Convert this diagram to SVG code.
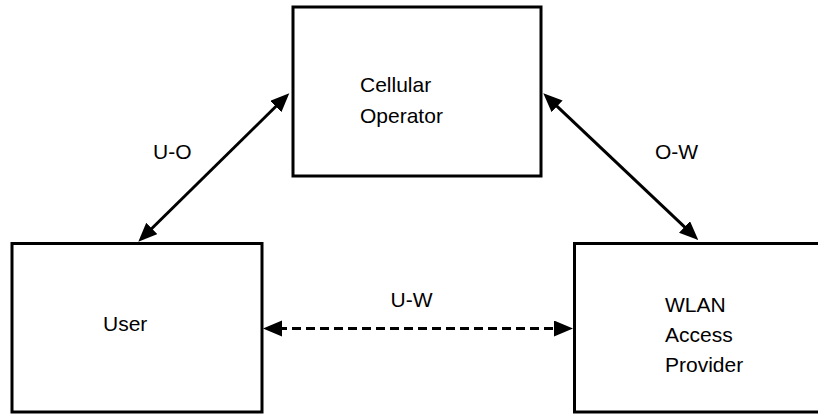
<svg xmlns="http://www.w3.org/2000/svg" width="818" height="414" viewBox="0 0 818 414">
  <style>
    .box { fill: #ffffff; stroke: #000000; stroke-width: 3; }
    .lbl { font-family: "Liberation Sans", Arial, sans-serif; font-size: 21px; fill: #000000; }
    .conn { stroke: #000000; stroke-width: 3; fill: none; marker-start: url(#ah); marker-end: url(#ah); }
    .dash { stroke-dasharray: 9 5; }
  </style>
  <defs>
    <marker id="ah" markerUnits="userSpaceOnUse" markerWidth="20" markerHeight="17" refX="4" refY="8" orient="auto-start-reverse" viewBox="0 0 20 17">
      <path d="M0,0 L19,8 L0,16 Z" fill="#000000"/>
    </marker>
  </defs>
  <rect width="818" height="414" fill="#ffffff"/>
  <g id="connectors">
    <line class="conn" x1="149" y1="231.2" x2="278.6" y2="103.8"/>
    <line class="conn" x1="554.2" y1="103.6" x2="687.4" y2="229.7"/>
    <line class="conn dash" x1="278" y1="328.5" x2="558" y2="328.5"/>
    <text class="lbl" x="153" y="158.5">U-O</text>
    <text class="lbl" x="655" y="158.5">O-W</text>
    <text class="lbl" x="390.5" y="307">U-W</text>
  </g>
  <g id="operator">
    <rect class="box" x="293" y="7" width="248" height="169"/>
    <text class="lbl" x="360" y="92">Cellular</text>
    <text class="lbl" x="360" y="123">Operator</text>
  </g>
  <g id="user">
    <rect class="box" x="12" y="243.5" width="250" height="168.5"/>
    <text class="lbl" x="103" y="330.5">User</text>
  </g>
  <g id="wlan">
    <rect class="box" x="574.5" y="243.5" width="250" height="168.5"/>
    <text class="lbl" x="665" y="311.5">WLAN</text>
    <text class="lbl" x="665" y="341.5">Access</text>
    <text class="lbl" x="665" y="371.5">Provider</text>
  </g>
</svg>
